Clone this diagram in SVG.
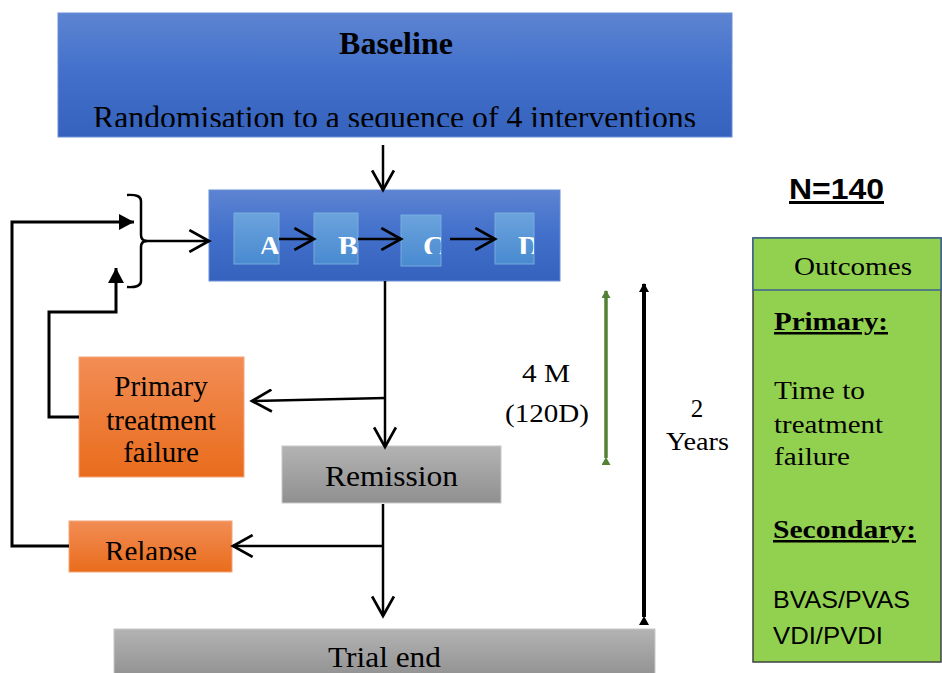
<svg xmlns="http://www.w3.org/2000/svg" width="942" height="673" viewBox="0 0 942 673">
<style>
.t{font-family:"Liberation Serif","Times New Roman",serif;fill:#000}
.s{font-family:"Liberation Sans",Arial,sans-serif;fill:#000}
.w{font-family:"Liberation Serif","Times New Roman",serif;font-weight:bold;fill:#fff;font-size:30px}
.ln{fill:none;stroke:#000;stroke-width:2.5}
.lp{fill:none;stroke:#000;stroke-width:3}
.sm{fill:url(#gSmall);stroke:#7eb2e4;stroke-width:1;opacity:0.9}
</style>
<defs>
<linearGradient id="gBlue" x1="0" y1="0" x2="0" y2="1">
<stop offset="0" stop-color="#5d84d2"/><stop offset="0.5" stop-color="#416fca"/><stop offset="1" stop-color="#3462bd"/>
</linearGradient>
<linearGradient id="gSmall" x1="0" y1="0" x2="0" y2="1">
<stop offset="0" stop-color="#70a8df"/><stop offset="1" stop-color="#4b8fd2"/>
</linearGradient>
<linearGradient id="gOr" x1="0" y1="0" x2="0" y2="1">
<stop offset="0" stop-color="#f28d55"/><stop offset="1" stop-color="#e96c1c"/>
</linearGradient>
<linearGradient id="gGr" x1="0" y1="0" x2="0" y2="1">
<stop offset="0" stop-color="#b3b3b3"/><stop offset="1" stop-color="#909090"/>
</linearGradient>
<marker id="open" markerUnits="userSpaceOnUse" markerWidth="24" markerHeight="24" viewBox="0 0 22 22" refX="19" refY="11" orient="auto">
<path d="M1,1 L19,11 L1,21" fill="none" stroke="#000" stroke-width="2.5"/>
</marker>
<marker id="fill" markerUnits="userSpaceOnUse" markerWidth="16" markerHeight="16" viewBox="0 0 16 16" refX="15" refY="8" orient="auto">
<path d="M0,0 L15,8 L0,16 Z" fill="#000"/>
</marker>
<marker id="gTip" markerUnits="userSpaceOnUse" markerWidth="9" markerHeight="9" viewBox="0 0 9 9" refX="7" refY="4.5" orient="auto">
<path d="M0,0 L8,4.5 L0,9 Z" fill="#548235"/>
</marker>
<marker id="bTip" markerUnits="userSpaceOnUse" markerWidth="10" markerHeight="10" viewBox="0 0 10 10" refX="8" refY="5" orient="auto">
<path d="M0,0 L9,5 L0,10 Z" fill="#000"/>
</marker>
<clipPath id="cBase"><rect x="58" y="13" width="674" height="114"/></clipPath>
<clipPath id="cA"><rect x="234" y="213" width="45" height="41"/></clipPath>
<clipPath id="cB"><rect x="314" y="213" width="44" height="41"/></clipPath>
<clipPath id="cC"><rect x="401" y="215" width="40" height="39"/></clipPath>
<clipPath id="cD"><rect x="495" y="213" width="39" height="41"/></clipPath>
<clipPath id="cRel"><rect x="69" y="521" width="163" height="39"/></clipPath>
</defs>

<g id="baseline">
<rect x="58" y="13" width="674" height="124" fill="url(#gBlue)" stroke="#6a8ed6" stroke-width="1"/>
<text class="t" x="396" y="54" font-size="32" font-weight="bold" text-anchor="middle">Baseline</text>
<text class="t" x="93" y="128" font-size="31" textLength="603" lengthAdjust="spacingAndGlyphs" clip-path="url(#cBase)">Randomisation to a sequence of  4 interventions</text>
</g>

<g id="sequence">
<rect x="209" y="190" width="351" height="91" fill="url(#gBlue)" stroke="#6a8ed6" stroke-width="1"/>
<g id="nodeA"><rect class="sm" x="234" y="213" width="45" height="51"/><text class="w" x="259" y="256" clip-path="url(#cA)">A</text></g>
<g id="nodeB"><rect class="sm" x="314" y="213" width="44" height="51"/><text class="w" x="338" y="256" clip-path="url(#cB)">B</text></g>
<g id="nodeC"><rect class="sm" x="401" y="215" width="40" height="51"/><text class="w" x="423" y="256" clip-path="url(#cC)">C</text></g>
<g id="nodeD"><rect class="sm" x="495" y="213" width="39" height="51"/><text class="w" x="518" y="256" clip-path="url(#cD)">D</text></g>
</g>

<g id="primary-failure">
<rect x="79" y="357" width="165" height="120" fill="url(#gOr)" stroke="#f5a57a" stroke-width="1"/>
<text class="t" font-size="29" text-anchor="middle" x="161" y="396">Primary</text>
<text class="t" font-size="29" text-anchor="middle" x="161" y="430">treatment</text>
<text class="t" font-size="29" text-anchor="middle" x="161" y="462">failure</text>
</g>

<g id="remission">
<rect x="282" y="446" width="219" height="57" fill="url(#gGr)" stroke="#c8c8c8" stroke-width="1"/>
<text class="t" font-size="30" x="325" y="486" textLength="133" lengthAdjust="spacingAndGlyphs">Remission</text>
</g>

<g id="relapse">
<rect x="69" y="521" width="163" height="51" fill="url(#gOr)" stroke="#f5a57a" stroke-width="1"/>
<text class="t" font-size="29" x="105" y="561" textLength="92" lengthAdjust="spacingAndGlyphs" clip-path="url(#cRel)">Relapse</text>
</g>

<g id="trial-end">
<rect x="114" y="629" width="541" height="50" fill="url(#gGr)" stroke="#c8c8c8" stroke-width="1"/>
<text class="t" font-size="29" x="328" y="667" textLength="113" lengthAdjust="spacingAndGlyphs">Trial end</text>
</g>

<g id="time-labels">
<text class="t" font-size="25" x="522" y="382" textLength="48" lengthAdjust="spacingAndGlyphs">4 M</text>
<text class="t" font-size="25" x="505" y="422" textLength="84" lengthAdjust="spacingAndGlyphs">(120D)</text>
<text class="t" font-size="25" x="697" y="417" text-anchor="middle">2</text>
<text class="t" font-size="25" x="666" y="450" textLength="63" lengthAdjust="spacingAndGlyphs">Years</text>
</g>

<g id="n140">
<text class="s" font-size="30" font-weight="bold" x="789" y="199" textLength="95" lengthAdjust="spacingAndGlyphs" text-decoration="underline">N=140</text>
</g>

<g id="outcomes">
<rect x="753" y="238" width="188" height="424" fill="#92d050" stroke="#404040" stroke-width="1.5"/>
<rect x="753" y="238" width="188" height="52" fill="#92d050" stroke="#3d6391" stroke-width="1.5"/>
<text class="t" font-size="25" x="794" y="275" textLength="118" lengthAdjust="spacingAndGlyphs">Outcomes</text>
<text class="t" font-size="25" font-weight="bold" x="774" y="330" textLength="114" lengthAdjust="spacingAndGlyphs" text-decoration="underline">Primary:</text>
<text class="t" font-size="25" x="774" y="399" textLength="91" lengthAdjust="spacingAndGlyphs">Time to</text>
<text class="t" font-size="25" x="774" y="433" textLength="109" lengthAdjust="spacingAndGlyphs">treatment</text>
<text class="t" font-size="25" x="774" y="465" textLength="76" lengthAdjust="spacingAndGlyphs">failure</text>
<text class="t" font-size="25" font-weight="bold" x="773" y="538" textLength="143" lengthAdjust="spacingAndGlyphs" text-decoration="underline">Secondary:</text>
<text class="s" font-size="24" x="773" y="608" textLength="137" lengthAdjust="spacingAndGlyphs">BVAS/PVAS</text>
<text class="s" font-size="24" x="773" y="644" textLength="110" lengthAdjust="spacingAndGlyphs">VDI/PVDI</text>
</g>

<g id="connectors">
<line class="ln" x1="383" y1="145" x2="383" y2="190" marker-end="url(#open)"/>
<line class="ln" x1="143" y1="241" x2="209" y2="241" marker-end="url(#open)"/>
<path class="ln" d="M127,195 Q141,194 141,201 L141,235 Q141,241 147,241 Q141,241 141,247 L141,281 Q141,288 127,287"/>
<line class="ln" x1="279" y1="239" x2="314" y2="239" marker-end="url(#open)"/>
<line class="ln" x1="358" y1="239" x2="401" y2="239" marker-end="url(#open)"/>
<line class="ln" x1="450" y1="239" x2="495" y2="239" marker-end="url(#open)"/>
<line class="ln" x1="385" y1="281" x2="385" y2="447" marker-end="url(#open)"/>
<line class="ln" x1="385" y1="398" x2="252" y2="401" marker-end="url(#open)"/>
<path class="lp" d="M79,417 L49,417 L49,312 L116,312 L116,268" marker-end="url(#fill)"/>
<path class="lp" d="M69,546 L12,546 L12,222 L134,222" marker-end="url(#fill)"/>
<line class="ln" x1="383" y1="504" x2="383" y2="616" marker-end="url(#open)"/>
<line class="ln" x1="383" y1="546" x2="233" y2="546" marker-end="url(#open)"/>
<line x1="606" y1="458" x2="606" y2="291" stroke="#548235" stroke-width="3.5" marker-start="url(#gTip)" marker-end="url(#gTip)"/>
<line x1="644" y1="617" x2="644" y2="284" stroke="#000" stroke-width="4" marker-start="url(#bTip)" marker-end="url(#bTip)"/>
</g>
</svg>
